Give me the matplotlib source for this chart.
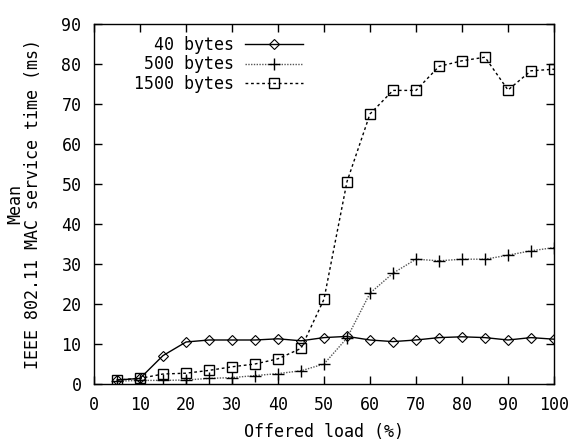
import matplotlib
matplotlib.use("Agg")
import matplotlib.pyplot as plt

load = [5, 10, 15, 20, 25, 30, 35, 40, 45, 50, 55, 60, 65, 70, 75, 80, 85, 90, 95, 100]
t40 = [1.0, 1.4, 7.1, 10.5, 11.0, 11.0, 11.0, 11.3, 10.8, 11.6, 11.9, 11.0, 10.6, 11.0, 11.6, 11.8, 11.6, 11.0, 11.6, 11.2]
t500 = [0.7, 0.9, 0.9, 1.0, 1.4, 1.6, 2.1, 2.6, 3.3, 5.0, 11.5, 22.7, 27.7, 31.2, 30.8, 31.2, 31.2, 32.2, 33.3, 34.1]
t1500 = [1.0, 1.4, 2.5, 2.7, 3.4, 4.3, 5.0, 6.3, 8.9, 21.2, 50.6, 67.5, 73.4, 73.4, 79.4, 80.8, 81.7, 73.5, 78.3, 78.7]
labels = ["40 bytes", "500 bytes", "1500 bytes"]

plt.rcParams['font.family'] = ['DejaVu Sans Mono']
plt.rcParams['font.size'] = 12

fig = plt.figure(figsize=(5.71, 4.41), dpi=100)
ax = fig.add_axes([94/571, 1-384/441, (554-94)/571, (384-24)/441])

ax.plot(load, t40, color='black', lw=1.0, ls='-', marker='D', ms=5,
        mfc='none', mec='black', mew=0.8, label=labels[0])
ax.plot(load, t500, color='#555555', lw=1.0, ls=(0, (1, 1)), marker='+', ms=8.5,
        mec='black', mew=1.0, label=labels[1])
ax.plot(load, t1500, color='black', lw=1.0, ls=(0, (2, 2)), marker='s', ms=7,
        mfc='none', mec='black', mew=1.0, label=labels[2])

ax.set_xlim(0, 100)
ax.set_ylim(0, 90)
ax.set_xticks(range(0, 101, 10))
ax.set_yticks(range(0, 91, 10))
ax.tick_params(direction='in', length=6, width=1, top=True, right=True, pad=9)
for s in ax.spines.values():
    s.set_linewidth(1)

ax.set_xlabel("Offered load (%)", labelpad=6)
ax.set_ylabel("Mean\nIEEE 802.11 MAC service time (ms)", labelpad=14, linespacing=1.0)

leg = ax.legend(loc='upper left', bbox_to_anchor=(0.062, 1.0), frameon=False,
                markerfirst=False, handlelength=3.5, handletextpad=0.65,
                labelspacing=0.1, borderaxespad=0.3)

fig.savefig("out.png", dpi=100)
